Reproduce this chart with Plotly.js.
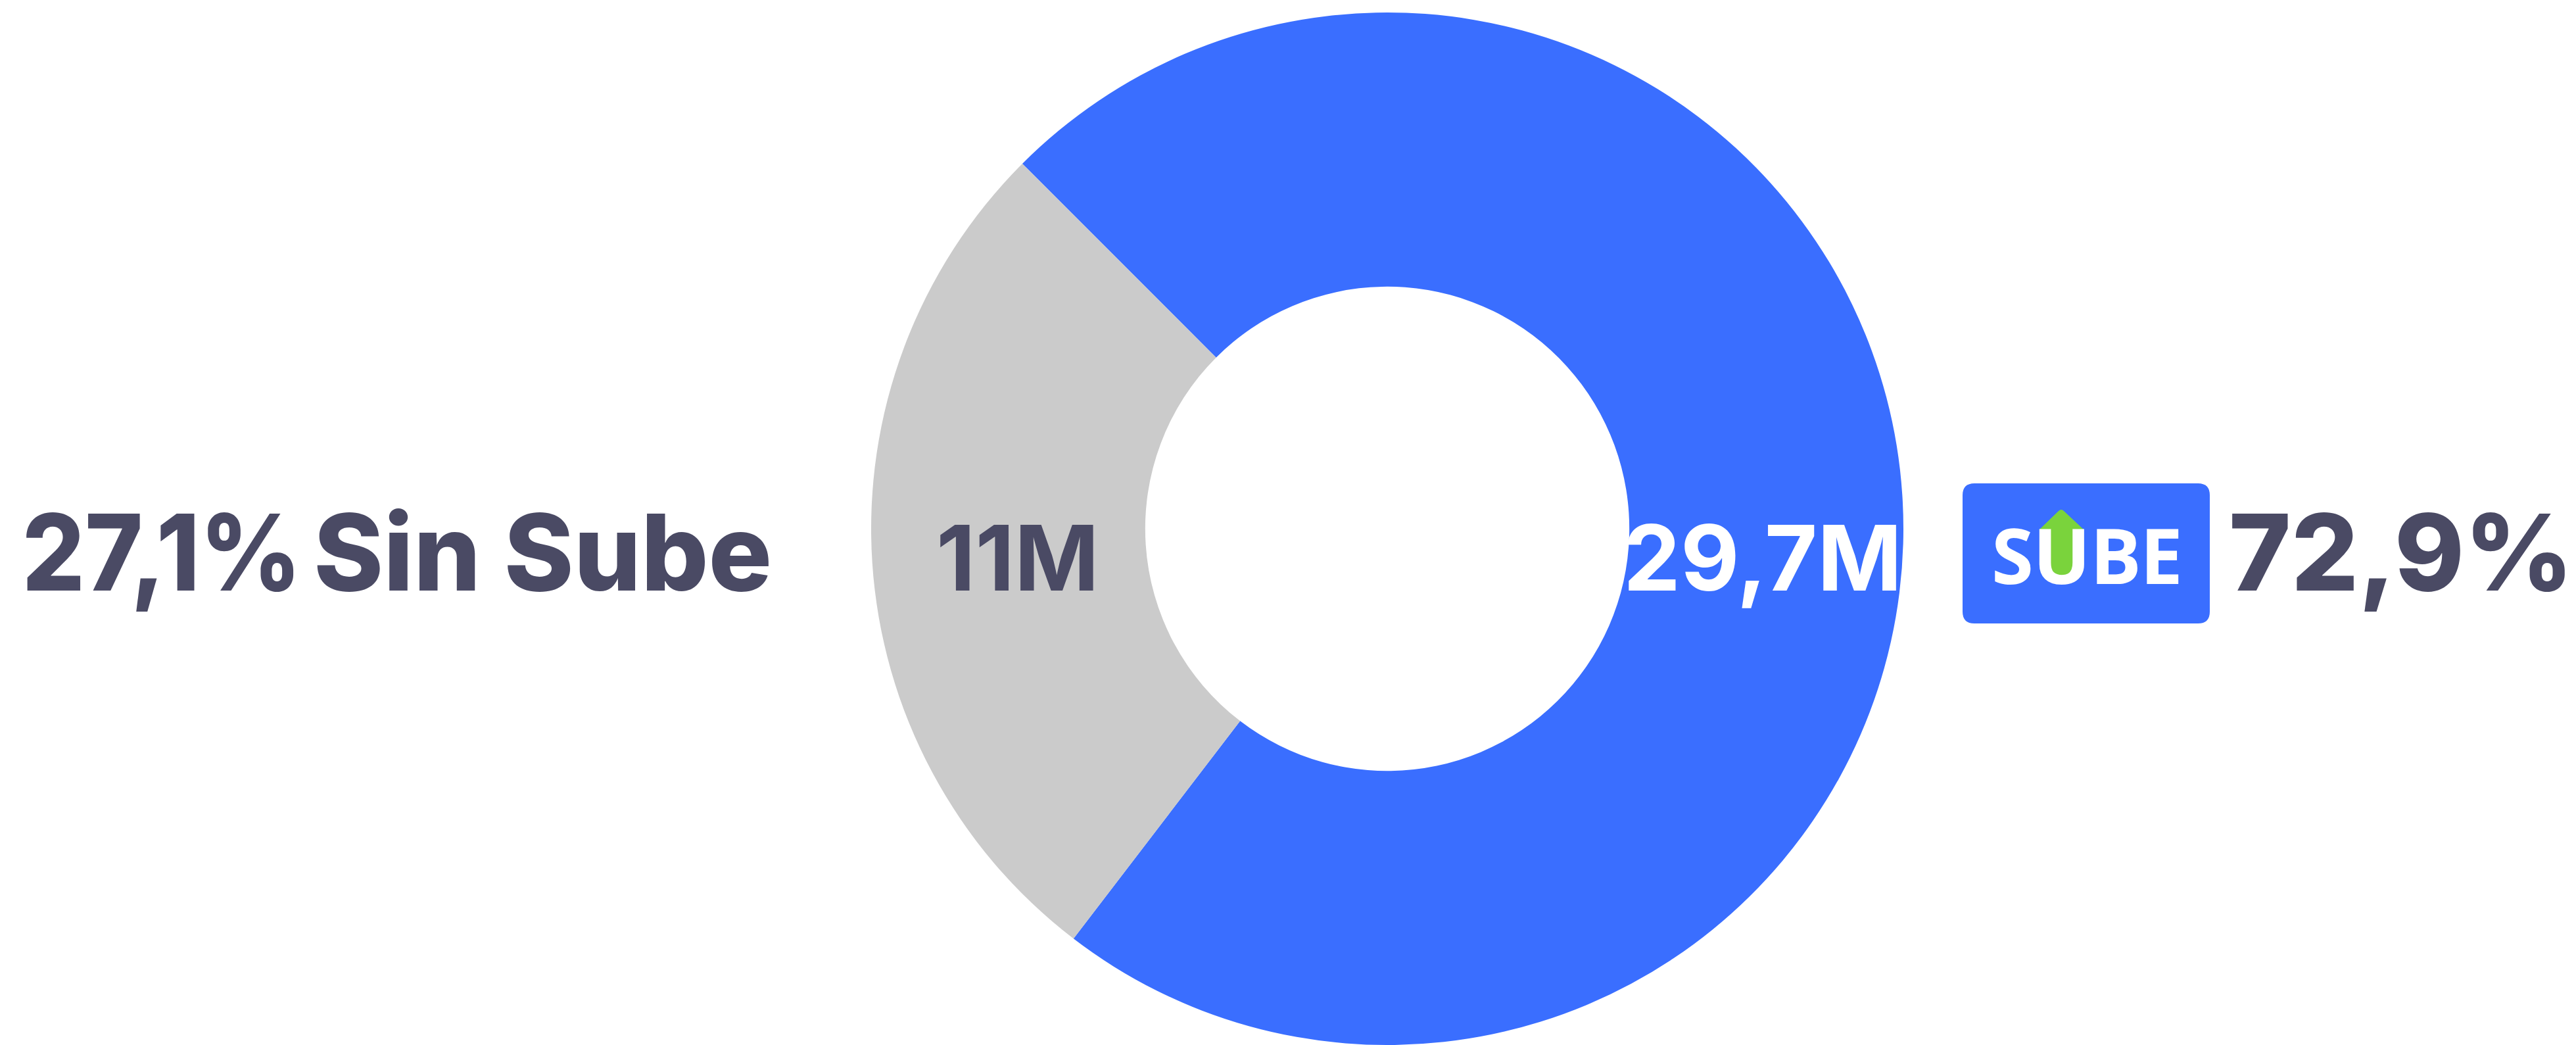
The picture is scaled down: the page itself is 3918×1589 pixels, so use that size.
<!DOCTYPE html>
<html>
<head>
<meta charset="utf-8">
<script src="https://cdn.plot.ly/plotly-3.0.1.min.js"></script>
<style>
  html, body { margin: 0; padding: 0; background: #ffffff; overflow: hidden; }
  #chart { width: 3918px; height: 1589px; }
</style>
</head>
<body>
<div id="chart"></div>
<script>
// ---- data ----
const categories = ['SUBE', 'Sin Sube'];
const shares = [72.9, 27.1];            // percent of passengers
const passengerLabels = ['29,7M', '11M'];
const shareLabels = ['72,9%', '27,1%'];
const sliceColors = ['#3A6EFF', '#CBCBCB'];

// ---- helpers (pixel -> paper) ----
const W = 3918, H = 1589;
const px = x => x / W;
const py = y => 1 - y / H;

const textColor = '#4A4A64';
const cx = 2110, cy = 804, R = 785;

const trace = {
  type: 'pie',
  values: shares,
  labels: categories,
  marker: { colors: sliceColors, line: { width: 0 } },
  hole: 0.469,
  sort: false,
  direction: 'clockwise',
  rotation: -45,
  textinfo: 'none',
  hoverinfo: 'label+percent',
  domain: { x: [px(cx - R), px(cx + R)], y: [py(cy + R), py(cy - R)] },
  showlegend: false
};

const bigFont = { family: 'Inter', size: 161, weight: 800, color: textColor };
const annotations = [
  { text: shareLabels[1], x: px(246), y: py(839), xanchor: 'center', yanchor: 'middle', font: bigFont },
  { text: categories[1], x: px(825), y: py(839), xanchor: 'center', yanchor: 'middle', font: bigFont },
  { text: shareLabels[0], x: px(3652), y: py(839), xanchor: 'center', yanchor: 'middle', font: bigFont },
  { text: passengerLabels[1], x: px(1548), y: py(847), xanchor: 'center', yanchor: 'middle',
    font: { family: 'Inter', size: 138, weight: 700, color: textColor } },
  { text: passengerLabels[0], x: px(2681), y: py(847), xanchor: 'center', yanchor: 'middle',
    font: { family: 'Inter', size: 138, weight: 700, color: '#ffffff' } }
];

const logoLetters = ['S', 'U', 'B', 'E'];
const logoX = [3061, 3135.5, 3218, 3287];
logoLetters.forEach((ch, i) => {
  annotations.push({ text: ch, x: px(logoX[i]), y: py(843), xanchor: 'center', yanchor: 'middle',
    font: { family: 'Open Sans', size: 116, weight: 700, color: '#ffffff' } });
});

annotations.forEach(a => { a.xref = 'paper'; a.yref = 'paper'; a.showarrow = false; a.borderpad = 0; });

function roundRect(x0, y0, x1, y1, r) {
  return 'M' + px(x0 + r) + ',' + py(y0) +
    ' L' + px(x1 - r) + ',' + py(y0) +
    ' Q' + px(x1) + ',' + py(y0) + ' ' + px(x1) + ',' + py(y0 + r) +
    ' L' + px(x1) + ',' + py(y1 - r) +
    ' Q' + px(x1) + ',' + py(y1) + ' ' + px(x1 - r) + ',' + py(y1) +
    ' L' + px(x0 + r) + ',' + py(y1) +
    ' Q' + px(x0) + ',' + py(y1) + ' ' + px(x0) + ',' + py(y1 - r) +
    ' L' + px(x0) + ',' + py(y0 + r) +
    ' Q' + px(x0) + ',' + py(y0) + ' ' + px(x0 + r) + ',' + py(y0) + ' Z';
}
const arrowHead = 'M' + px(3101) + ',' + py(806) + ' L' + px(3131) + ',' + py(777) +
  ' Q' + px(3135) + ',' + py(773) + ' ' + px(3139) + ',' + py(777) +
  ' L' + px(3170) + ',' + py(806) + ' Z';
const arrowShaft = 'M' + px(3117) + ',' + py(800) + ' L' + px(3117) + ',' + py(858) +
  ' Q' + px(3117) + ',' + py(876) + ' ' + px(3135.5) + ',' + py(876) +
  ' Q' + px(3154) + ',' + py(876) + ' ' + px(3154) + ',' + py(858) +
  ' L' + px(3154) + ',' + py(800) + ' Z';

const shapes = [
  { type: 'path', path: roundRect(2985, 735, 3361, 948, 18), fillcolor: sliceColors[0], line: { width: 0 } },
  { type: 'path', path: arrowShaft, fillcolor: '#7AD33C', line: { width: 0 } },
  { type: 'path', path: arrowHead, fillcolor: '#7AD33C', line: { width: 0 } }
].map(s => Object.assign({ xref: 'paper', yref: 'paper', layer: 'above' }, s));

const layout = {
  width: W, height: H,
  margin: { l: 0, r: 0, t: 0, b: 0, pad: 0 },
  paper_bgcolor: '#ffffff', plot_bgcolor: '#ffffff',
  showlegend: false,
  annotations: annotations,
  shapes: shapes
};

// the reference's left percent label is set slightly narrower than this font's default width
const widthScale = { '27,1%': 0.932 };

Plotly.newPlot('chart', [trace], layout, { displayModeBar: false, staticPlot: true }).then(gd => {
  gd.querySelectorAll('.annotation-text').forEach(t => {
    const s = widthScale[t.textContent];
    if (s) {
      const w = t.getComputedTextLength();
      t.setAttribute('textLength', (w * s).toFixed(1));
      t.setAttribute('lengthAdjust', 'spacingAndGlyphs');
    }
  });
});
</script>
</body>
</html>
